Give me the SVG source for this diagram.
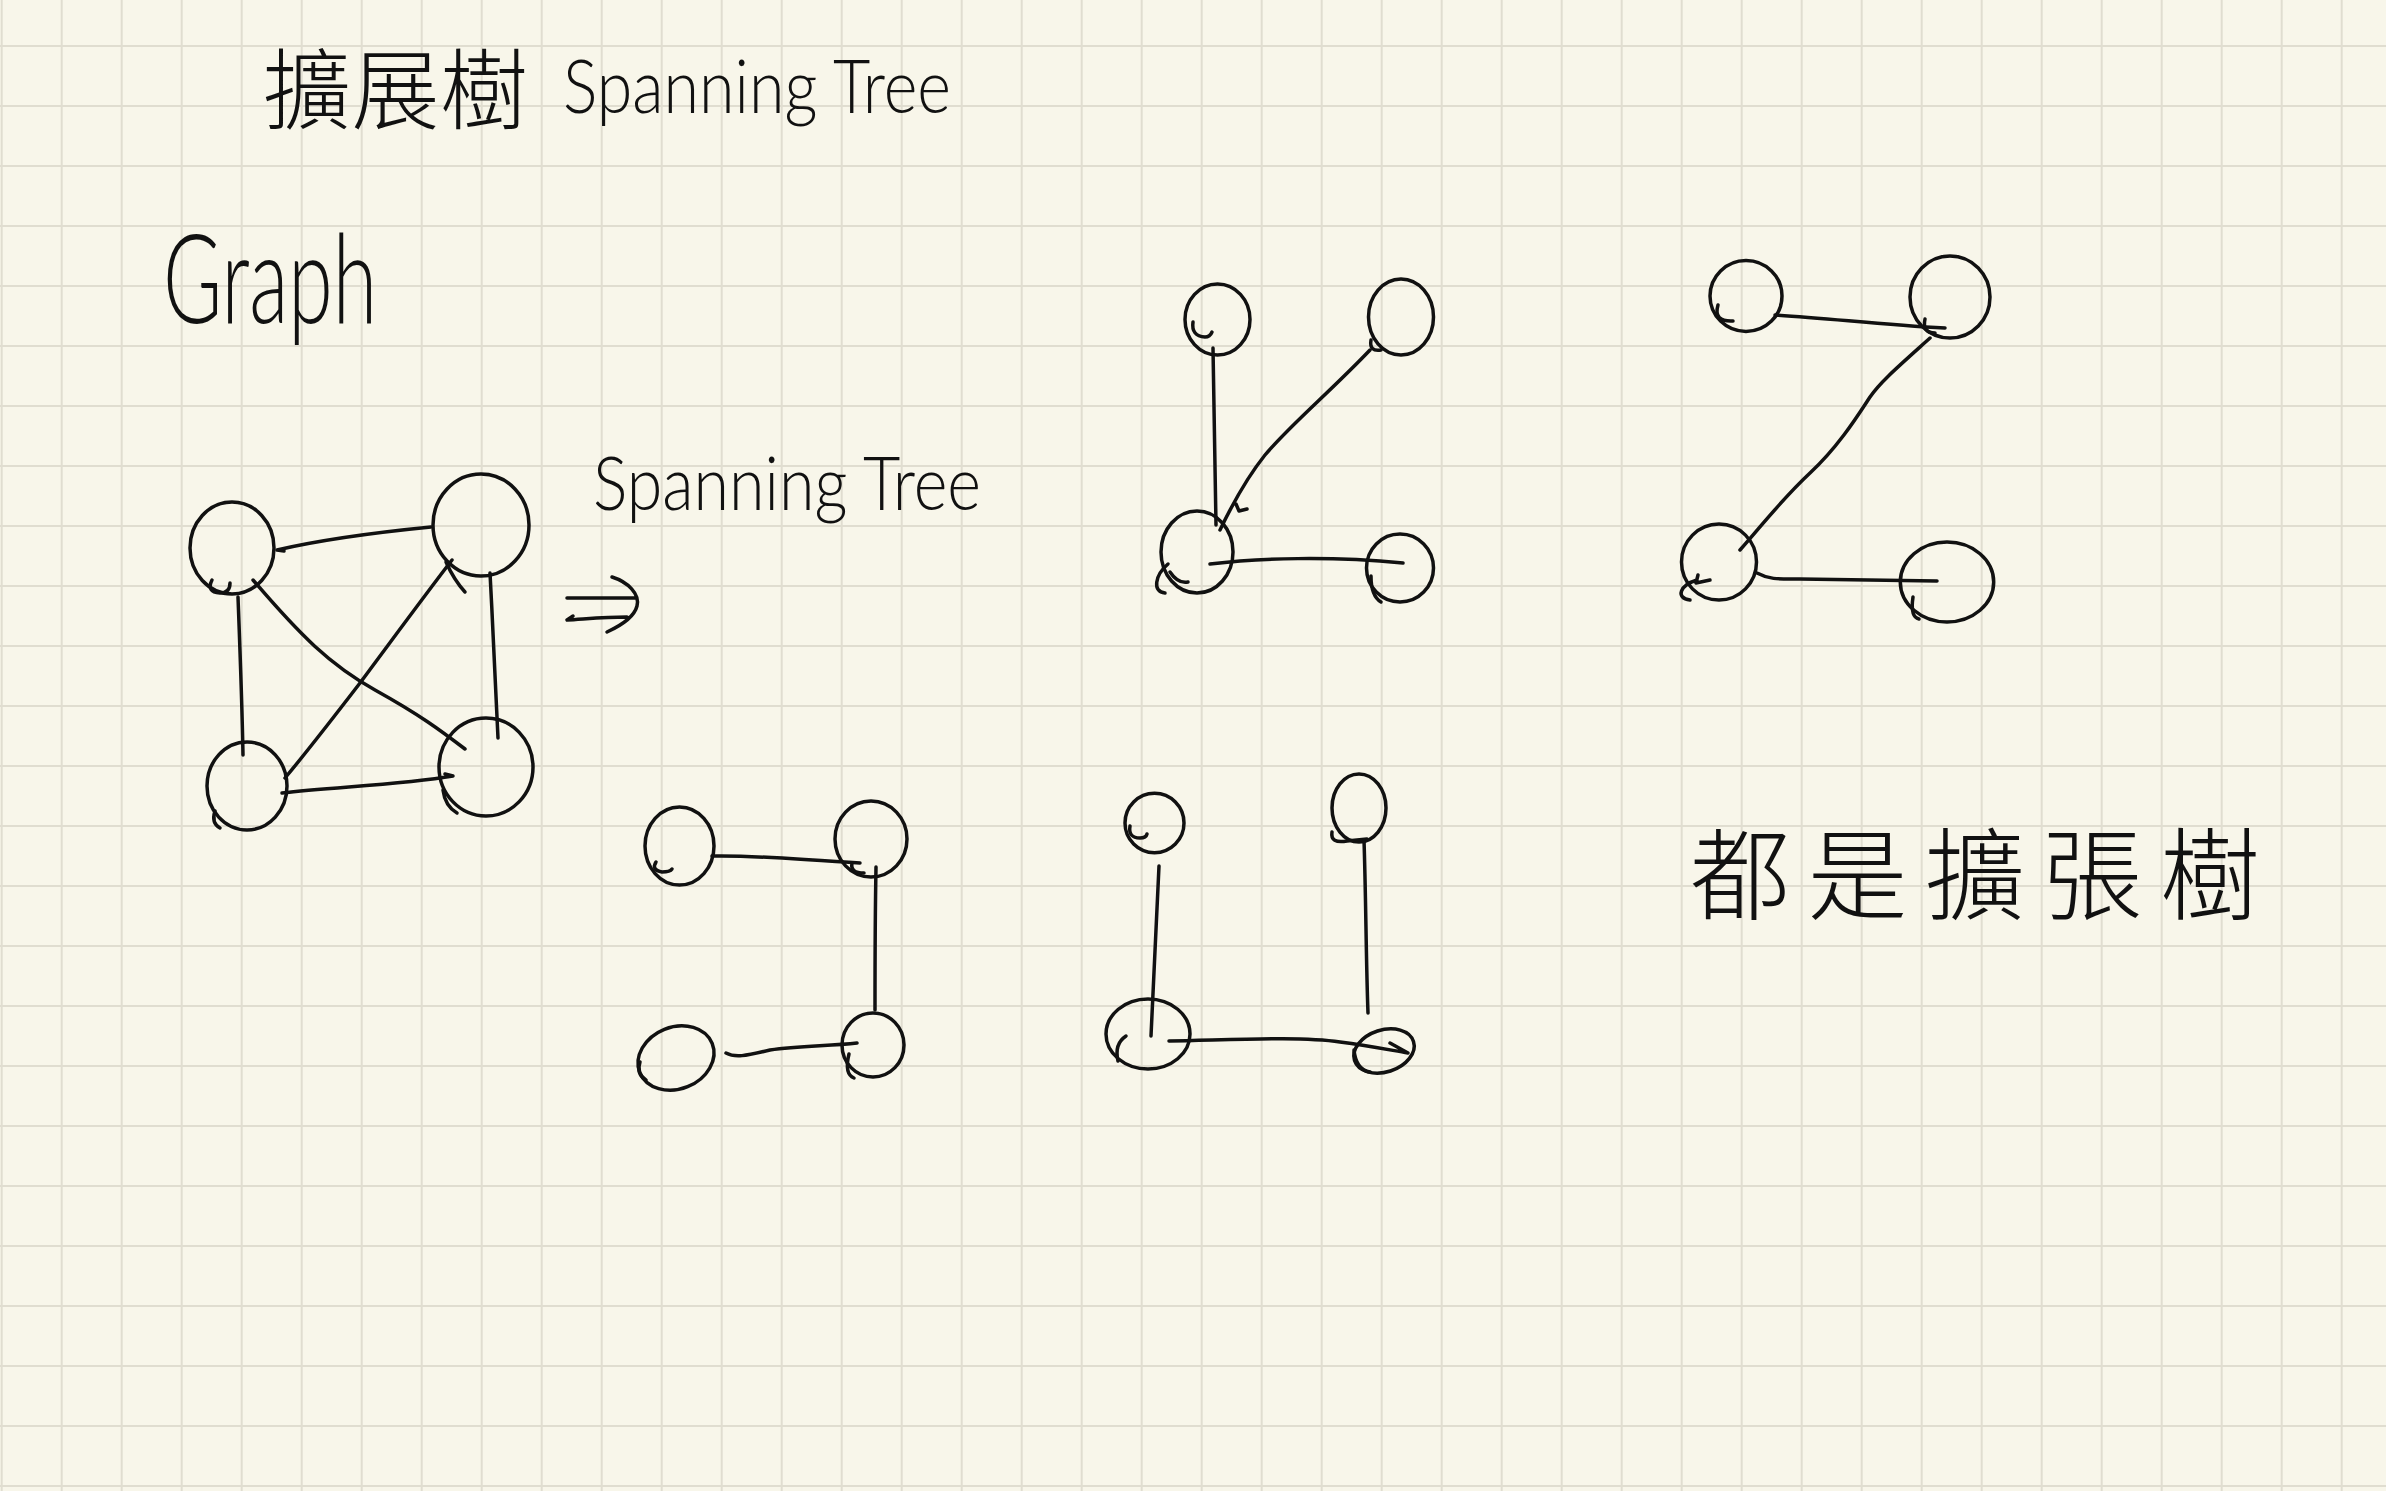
<svg xmlns="http://www.w3.org/2000/svg" width="2386" height="1491" viewBox="0 0 2386 1491">
  <style>
    .ink { fill: none; stroke: #111; stroke-width: 3.5; stroke-linecap: round; stroke-linejoin: round; }
    .lat { font-family: Lato, "Open Sans", "Liberation Sans", sans-serif; font-weight: 300; fill: #111; }
    .cjk { font-family: "Noto Sans CJK TC", "Noto Sans CJK SC", sans-serif; font-weight: 300; fill: #111; }
  </style>
  <defs>
    <pattern id="grid" patternUnits="userSpaceOnUse" x="0.7" y="45" width="60" height="60">
      <rect x="0" y="0" width="2" height="60" fill="#e0ddd0"/>
      <rect x="0" y="0" width="60" height="2" fill="#e0ddd0"/>
    </pattern>
  </defs>
  <rect width="2386" height="1491" fill="#f8f6ea"/>
  <rect width="2386" height="1491" fill="url(#grid)"/>

  <g id="title">
    <text class="cjk" x="263" y="122" font-size="88" textLength="265" lengthAdjust="spacing">擴展樹</text>
    <text class="lat" x="563" y="113" font-size="74" textLength="388" lengthAdjust="spacingAndGlyphs">Spanning Tree</text>
  </g>
  <g id="label-graph">
    <text class="lat" x="163" y="323" font-size="124" textLength="214" lengthAdjust="spacingAndGlyphs">Graph</text>
  </g>
  <g id="label-spanning">
    <text class="lat" x="593" y="510" font-size="74" textLength="388" lengthAdjust="spacingAndGlyphs">Spanning Tree</text>
  </g>
  <g id="label-arrow">
    <path class="ink" d="M567,598 L635,598 M612,577 C628,582 640,594 637,606 C634,618 620,626 607,632 M567,620 C585,619 605,617 627,617 M567,620 l6,-4"/>
  </g>
  <g id="label-all">
    <text class="cjk" x="1690" y="912" font-size="100" textLength="570" lengthAdjust="spacing">都是擴張樹</text>
  </g>

  <!-- Graph nodes -->
  <g id="g-a"><ellipse class="ink" cx="232" cy="548" rx="42" ry="46"/><path class="ink" d="M212,580 q-6,12 8,13 q10,0 10,-10"/></g>
  <g id="g-b"><ellipse class="ink" cx="481" cy="525" rx="48" ry="51"/><path class="ink" d="M446,562 q8,18 19,30"/></g>
  <g id="g-c"><ellipse class="ink" cx="247" cy="786" rx="40" ry="44"/><path class="ink" d="M215,811 q-4,12 5,17"/></g>
  <g id="g-d"><ellipse class="ink" cx="486" cy="767" rx="47" ry="49"/><path class="ink" d="M443,790 q2,16 14,23"/></g>

  <!-- Tree 1 nodes -->
  <g id="t1-a"><ellipse class="ink" cx="1217.5" cy="319.5" rx="32.5" ry="35.5"/><path class="ink" d="M1193,322 q-2,14 12,15 q5,0 7,-5"/></g>
  <g id="t1-b"><ellipse class="ink" cx="1401" cy="317" rx="32.5" ry="38"/><path class="ink" d="M1371,340 q-2,12 10,10"/></g>
  <g id="t1-c"><ellipse class="ink" cx="1197" cy="552" rx="36" ry="41"/><path class="ink" d="M1168,564 C1155,575 1152,592 1165,593 M1170,572 q8,12 18,10"/></g>
  <g id="t1-d"><ellipse class="ink" cx="1400" cy="568" rx="33.5" ry="34"/><path class="ink" d="M1371,576 q0,20 10,26"/></g>

  <!-- Tree 2 nodes -->
  <g id="t2-a"><ellipse class="ink" cx="1746" cy="296" rx="36" ry="35.5"/><path class="ink" d="M1718,305 q-5,17 15,16"/></g>
  <g id="t2-b"><ellipse class="ink" cx="1950" cy="297" rx="40" ry="41"/><path class="ink" d="M1925,319 q-3,14 10,14"/></g>
  <g id="t2-c"><ellipse class="ink" cx="1719" cy="562" rx="37.5" ry="38"/><path class="ink" d="M1697,580 C1680,585 1675,598 1690,600 M1698,575 l-2,8 l14,-3"/></g>
  <g id="t2-d"><ellipse class="ink" cx="1947" cy="582" rx="46.7" ry="40"/><path class="ink" d="M1913,597 q-3,20 6,22"/></g>

  <!-- Tree 3 nodes -->
  <g id="t3-a"><ellipse class="ink" cx="679.5" cy="846" rx="34.5" ry="39"/><path class="ink" d="M656,862 q-5,8 6,10 q8,0 10,-3"/></g>
  <g id="t3-b"><ellipse class="ink" cx="871" cy="839" rx="36" ry="38"/><path class="ink" d="M852,863 q-2,10 12,10"/></g>
  <g id="t3-c"><ellipse class="ink" cx="676" cy="1058" rx="39" ry="31" transform="rotate(-22 676 1058)"/><path class="ink" d="M640,1062 q-4,12 6,18"/></g>
  <g id="t3-d"><ellipse class="ink" cx="873" cy="1045" rx="31" ry="32"/><path class="ink" d="M849,1054 q-5,20 5,24"/></g>

  <!-- Tree 4 nodes -->
  <g id="t4-a"><ellipse class="ink" cx="1154.5" cy="823" rx="29.5" ry="29.7"/><path class="ink" d="M1130,826 q-2,12 10,12 q6,0 7,-4"/></g>
  <g id="t4-b"><ellipse class="ink" cx="1359" cy="808" rx="27" ry="34"/><path class="ink" d="M1332,832 q-2,12 15,9 L1367,839"/></g>
  <g id="t4-c"><ellipse class="ink" cx="1148" cy="1034" rx="42" ry="35"/><path class="ink" d="M1126,1036 q-12,8 -8,25"/></g>
  <g id="t4-d"><ellipse class="ink" cx="1384" cy="1051" rx="31" ry="21" transform="rotate(-18 1384 1051)"/><path class="ink" d="M1354,1050 q2,20 16,22"/></g>

  <g id="connectors">
    <!-- Graph -->
    <path class="ink" d="M431,527 C380,532 320,540 277,550 l7,1"/>
    <path class="ink" d="M238,597 C240,650 242,700 243,755"/>
    <path class="ink" d="M253,580 C300,635 330,665 375,690 S440,730 465,749"/>
    <path class="ink" d="M285,778 C300,760 320,735 360,683 C395,636 425,595 452,560"/>
    <path class="ink" d="M490,573 C493,630 496,690 498,738"/>
    <path class="ink" d="M282,793 C330,787 400,785 453,776 l-8,-2"/>
    <!-- Tree 1 -->
    <path class="ink" d="M1213,348 C1214,410 1215,470 1216,525"/>
    <path class="ink" d="M1370,350 C1330,392 1290,425 1265,455 C1245,480 1232,505 1220,530 M1236,504 l3,7 l8,-2"/>
    <path class="ink" d="M1210,564 C1260,558 1330,556 1403,563"/>
    <!-- Tree 2 -->
    <path class="ink" d="M1775,315 C1830,318 1880,325 1945,328"/>
    <path class="ink" d="M1930,338 C1900,365 1880,382 1870,397 S1840,445 1810,473 S1760,528 1740,550"/>
    <path class="ink" d="M1757,573 C1770,580 1780,579 1800,579 L1937,581"/>
    <!-- Tree 3 -->
    <path class="ink" d="M712,856 C760,855 800,860 860,863"/>
    <path class="ink" d="M876,867 C875,920 875,965 875,1010"/>
    <path class="ink" d="M726,1053 C735,1058 745,1056 770,1050 C800,1046 830,1046 857,1043"/>
    <!-- Tree 4 -->
    <path class="ink" d="M1159,866 L1151,1036"/>
    <path class="ink" d="M1364,840 C1366,900 1366,960 1368,1013"/>
    <path class="ink" d="M1169,1041 C1230,1040 1300,1036 1340,1042 C1370,1046 1390,1050 1408,1053 L1390,1043"/>
  </g>
</svg>
